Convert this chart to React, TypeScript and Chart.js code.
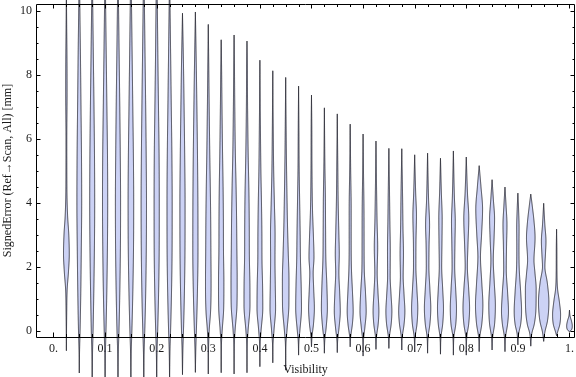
import React, { useEffect, useRef } from 'react';
import { Chart, registerables } from 'chart.js';

Chart.register(...registerables);

// ---------- data ----------
const violinPositions = [
  0.025, 0.05, 0.075, 0.1, 0.125, 0.15, 0.175, 0.2, 0.225, 0.25,
  0.275, 0.3, 0.325, 0.35, 0.375, 0.4, 0.425, 0.45, 0.475, 0.5,
  0.525, 0.55, 0.575, 0.6, 0.625, 0.65, 0.675, 0.7, 0.725, 0.75,
  0.775, 0.8, 0.825, 0.85, 0.875, 0.9, 0.925, 0.95, 0.975, 1.0,
];

// each violin: knots [signedError, relative density]
const violinProfiles: number[][][] = [
  [[-0.63, 0], [0.5, 0.3], [1.3, 0.8], [1.8, 2], [2.4, 2.9], [3.0, 2.4], [3.6, 1.2], [4.5, 0.5], [6, 0.4], [7.5, 0.7], [8.5, 0.6], [9.5, 0.3], [10.8, 0]],
  [[-1.33, 0], [-0.6, 0.3], [0, 0.8], [1, 1.4], [2.5, 2.0], [4, 2.4], [5.5, 2.2], [7, 1.7], [8.5, 1.2], [10, 0.6], [11.5, 0]],
  [[-1.6, 0], [-0.6, 0.4], [0, 0.9], [1, 1.5], [2.5, 2.2], [4, 2.5], [5.5, 2.3], [7, 1.8], [8.5, 1.2], [10, 0.6], [11.5, 0]],
  [[-1.6, 0], [-0.6, 0.4], [0, 0.9], [1, 1.6], [2.5, 2.3], [4, 2.6], [5.5, 2.4], [7, 1.8], [8.5, 1.2], [10, 0.6], [11.5, 0]],
  [[-1.6, 0], [-0.6, 0.4], [0, 1.0], [1, 1.7], [2.5, 2.4], [4, 2.6], [5.5, 2.3], [7, 1.8], [8.5, 1.2], [10, 0.6], [11.5, 0]],
  [[-1.6, 0], [-0.6, 0.4], [0, 1.0], [1, 1.8], [2.5, 2.6], [4, 2.8], [5.5, 2.5], [7, 1.9], [8.5, 1.3], [10, 0.7], [11.5, 0]],
  [[-1.6, 0], [-0.6, 0.4], [0, 1.0], [1, 1.8], [2.5, 2.5], [4, 2.7], [5.5, 2.4], [7, 1.9], [8.5, 1.3], [10, 0.7], [11.5, 0]],
  [[-1.6, 0], [-0.6, 0.4], [0, 1.0], [1, 1.8], [2.5, 2.5], [4, 2.6], [5.5, 2.4], [7, 1.8], [8.5, 1.2], [10, 0.7], [11.5, 0]],
  [[-1.6, 0], [-0.6, 0.4], [0, 1.0], [1, 1.8], [2.5, 2.5], [4, 2.6], [5.5, 2.3], [7, 1.7], [8.5, 1.1], [10, 0.5], [11.2, 0]],
  [[-1.38, 0], [-0.6, 0.4], [0, 1.0], [1, 1.8], [2.5, 2.5], [4, 2.6], [5.5, 2.2], [7, 1.6], [8.5, 0.9], [9.93, 0]],
  [[-1.31, 0], [-0.6, 0.4], [0, 1.0], [1, 1.9], [2.5, 2.6], [4, 2.5], [5.5, 2.1], [7, 1.5], [8.5, 0.8], [9.97, 0]],
  [[-1.36, 0], [-0.5, 0.3], [0, 0.9], [0.6, 2.3], [1.5, 2.8], [2.5, 2.6], [3.5, 2.4], [4.5, 2.0], [5.5, 1.5], [7, 0.9], [8.5, 0.4], [9.58, 0]],
  [[-1.32, 0], [-0.4, 0.3], [0, 1.0], [0.7, 2.5], [1.5, 2.7], [2.5, 2.3], [3.5, 2.2], [4.5, 1.9], [5.5, 1.4], [7, 0.8], [8.5, 0.3], [9.1, 0]],
  [[-1.36, 0], [-0.4, 0.3], [0, 1.0], [0.8, 2.9], [1.6, 3.1], [2.5, 2.8], [3.5, 2.5], [4.5, 2.0], [5.5, 1.3], [7, 0.7], [8.5, 0.3], [9.25, 0]],
  [[-1.32, 0], [-0.4, 0.3], [0, 1.1], [0.8, 3.0], [1.5, 2.9], [2.3, 2.4], [3.2, 2.3], [4.2, 2.0], [5.5, 1.2], [7, 0.6], [8.5, 0.3], [9.06, 0]],
  [[-1.13, 0], [-0.4, 0.3], [0, 1.2], [0.7, 2.9], [1.4, 2.7], [2.2, 2.1], [3.0, 2.0], [4, 1.6], [5, 1.0], [6.5, 0.5], [8.46, 0]],
  [[-1.01, 0], [-0.4, 0.3], [0, 1.2], [0.7, 2.8], [1.4, 2.5], [2.2, 2.2], [3.0, 2.3], [4, 1.6], [5, 0.9], [6.5, 0.4], [8.13, 0]],
  [[-1.24, 0], [-0.4, 0.3], [0, 1.3], [0.8, 3.2], [1.6, 3.3], [2.4, 2.6], [3.2, 1.9], [4.2, 1.3], [5.5, 0.7], [6.5, 0.4], [7.92, 0]],
  [[-0.77, 0], [-0.3, 0.4], [0, 1.3], [0.7, 2.9], [1.4, 2.6], [2.2, 1.9], [3.0, 1.6], [4.0, 1.1], [5, 0.6], [6.5, 0.3], [7.65, 0]],
  [[-0.51, 0], [-0.2, 0.5], [0.2, 2.0], [0.7, 2.9], [1.3, 2.2], [1.8, 1.7], [2.3, 2.5], [2.9, 2.0], [3.8, 1.0], [5, 0.5], [6.5, 0.3], [7.37, 0]],
  [[-0.71, 0], [-0.3, 0.4], [0.1, 1.8], [0.7, 3.0], [1.4, 2.5], [2.2, 1.5], [3.2, 1.2], [4.2, 1.0], [5.2, 0.5], [6.97, 0]],
  [[-0.69, 0], [-0.3, 0.4], [0.1, 1.8], [0.6, 3.0], [1.2, 2.4], [1.8, 1.6], [2.4, 2.0], [3.0, 1.6], [4, 0.9], [5.2, 0.5], [6.78, 0]],
  [[-0.51, 0], [-0.2, 0.5], [0.2, 2.2], [0.6, 3.0], [1.2, 2.3], [1.9, 1.3], [2.8, 1.0], [3.8, 1.0], [5, 0.5], [6.46, 0]],
  [[-0.8, 0], [-0.3, 0.4], [0.1, 1.8], [0.6, 3.1], [1.2, 2.4], [1.9, 1.2], [2.8, 1.0], [3.8, 0.9], [5, 0.4], [6.15, 0]],
  [[-0.59, 0], [-0.2, 0.5], [0.2, 2.2], [0.6, 2.9], [1.2, 2.0], [1.8, 1.2], [2.6, 1.7], [3.4, 1.1], [4.4, 0.6], [5.93, 0]],
  [[-0.56, 0], [-0.2, 0.5], [0.2, 2.3], [0.6, 3.0], [1.1, 2.2], [1.7, 1.3], [2.5, 1.4], [3.4, 1.0], [4.4, 0.6], [5.7, 0]],
  [[-0.61, 0], [-0.2, 0.5], [0.2, 2.3], [0.6, 3.1], [1.1, 2.3], [1.7, 1.4], [2.4, 1.7], [3.2, 1.2], [4.2, 0.8], [5.69, 0]],
  [[-0.65, 0], [-0.2, 0.5], [0.2, 2.3], [0.7, 3.1], [1.3, 2.2], [2.0, 1.2], [2.8, 1.3], [3.6, 1.8], [4.3, 1.0], [5.5, 0]],
  [[-0.71, 0], [-0.2, 0.5], [0.2, 2.3], [0.7, 3.2], [1.3, 2.3], [2.0, 1.3], [2.7, 1.5], [3.3, 2.0], [4.1, 1.0], [5.55, 0]],
  [[-0.74, 0], [-0.2, 0.5], [0.2, 2.2], [0.7, 3.0], [1.3, 2.2], [2.0, 1.2], [2.8, 1.5], [3.5, 1.7], [4.3, 0.9], [5.39, 0]],
  [[-0.77, 0], [-0.2, 0.5], [0.2, 2.4], [0.7, 3.1], [1.3, 2.3], [2.0, 1.3], [2.8, 1.6], [3.4, 1.9], [4.2, 1.0], [5.62, 0]],
  [[-0.77, 0], [-0.2, 0.5], [0.2, 2.4], [0.7, 3.3], [1.3, 2.4], [2.0, 1.1], [2.7, 1.7], [3.5, 2.5], [4.3, 1.2], [5.43, 0]],
  [[-0.66, 0], [-0.2, 0.6], [0.2, 2.6], [0.8, 3.7], [1.5, 2.6], [2.3, 1.3], [3.0, 2.4], [3.8, 3.4], [4.5, 1.8], [5.16, 0]],
  [[-0.61, 0], [-0.2, 0.6], [0.2, 2.5], [0.8, 3.3], [1.5, 2.2], [2.2, 1.2], [2.9, 2.0], [3.5, 2.5], [4.1, 1.3], [4.72, 0]],
  [[-0.66, 0], [-0.2, 0.6], [0.2, 2.6], [0.6, 3.5], [1.2, 2.6], [1.9, 1.3], [2.7, 1.6], [3.3, 2.0], [3.9, 1.1], [4.49, 0]],
  [[-0.45, 0], [-0.1, 0.8], [0.2, 2.8], [0.6, 3.7], [1.2, 2.8], [1.9, 1.4], [2.6, 1.1], [3.2, 1.2], [3.8, 0.7], [4.3, 0]],
  [[-0.49, 0], [-0.1, 1.0], [0.2, 3.5], [0.7, 5.2], [1.3, 5.4], [1.8, 4.2], [2.2, 3.2], [2.9, 4.3], [3.4, 3.3], [3.9, 1.5], [4.27, 0]],
  [[-0.34, 0], [-0.05, 1.2], [0.3, 3.8], [0.9, 5.2], [1.5, 3.6], [2.0, 1.2], [2.4, 1.8], [2.8, 2.3], [3.3, 1.2], [3.98, 0]],
  [[-0.16, 0], [-0.05, 1.0], [0.2, 3.3], [0.5, 4.0], [0.9, 2.8], [1.3, 1.0], [1.8, 0.4], [2.5, 0.3], [3.17, 0]],
  [[-0.03, 0], [0.0, 1.5], [0.15, 2.8], [0.3, 2.0], [0.45, 0.6], [0.64, 0]],
];

const xTickValues = [0, 0.1, 0.2, 0.3, 0.4, 0.5, 0.6, 0.7, 0.8, 0.9, 1.0];
const xTickLabels = ['0.', '0.1', '0.2', '0.3', '0.4', '0.5', '0.6', '0.7', '0.8', '0.9', '1.'];
const yTickValues = [0, 2, 4, 6, 8, 10];
const yTickLabels = ['0', '2', '4', '6', '8', '10'];
const xMinorStep = 0.025;
const yMinorStep = 0.5;

const xTitle = 'Visibility';
const yTitle = 'SignedError (Ref\u2192Scan, All) [mm]';

// ---------- styles ----------
const X_MIN = -0.0339;
const X_MAX = 1.0107;
const Y_MIN = -0.203;
const Y_MAX = 10.22;
const DENSITY_PX = 1; // half-width in px per density unit
const FILL = 'rgb(204,210,245)';
const EDGE = 'rgba(25,25,35,0.8)';
const FONT_FAMILY = '"Liberation Serif", "DejaVu Serif", serif';
const TEXT = '#1a1a1a';

function sampleProfile(knots: number[][], step: number): number[][] {
  const n = knots.length;
  const xs = knots.map((k) => k[0]);
  const ys = knots.map((k) => k[1]);
  const d: number[] = [];
  for (let i = 0; i < n - 1; i++) d.push((ys[i + 1] - ys[i]) / (xs[i + 1] - xs[i]));
  const m: number[] = new Array(n).fill(0);
  m[0] = d[0];
  m[n - 1] = d[n - 2];
  for (let i = 1; i < n - 1; i++) {
    m[i] = d[i - 1] * d[i] <= 0 ? 0 : (d[i - 1] + d[i]) / 2;
  }
  for (let i = 0; i < n - 1; i++) {
    if (d[i] === 0) {
      m[i] = 0;
      m[i + 1] = 0;
    } else {
      const a = m[i] / d[i];
      const b = m[i + 1] / d[i];
      const s = a * a + b * b;
      if (s > 9) {
        const t = 3 / Math.sqrt(s);
        m[i] = t * a * d[i];
        m[i + 1] = t * b * d[i];
      }
    }
  }
  const out: number[][] = [];
  for (let i = 0; i < n - 1; i++) {
    const h = xs[i + 1] - xs[i];
    const steps = Math.max(2, Math.ceil(h / step));
    for (let j = 0; j < steps; j++) {
      const t = j / steps;
      const t2 = t * t;
      const t3 = t2 * t;
      const h00 = 2 * t3 - 3 * t2 + 1;
      const h10 = t3 - 2 * t2 + t;
      const h01 = -2 * t3 + 3 * t2;
      const h11 = t3 - t2;
      const w = h00 * ys[i] + h10 * h * m[i] + h01 * ys[i + 1] + h11 * h * m[i + 1];
      out.push([xs[i] + t * h, Math.max(0, w)]);
    }
  }
  out.push([xs[n - 1], Math.max(0, ys[n - 1])]);
  return out;
}

const violinPlugin = {
  id: 'violins',
  afterDraw(chart: any) {
    const { ctx, chartArea } = chart;
    const xs = chart.scales.x;
    const ys = chart.scales.y;
    ctx.save();
    // violins
    violinPositions.forEach((pos, i) => {
      const cx = xs.getPixelForValue(pos);
      const samples = sampleProfile(violinProfiles[i], 0.02);
      ctx.beginPath();
      samples.forEach(([v, w], j) => {
        const px = cx + w * DENSITY_PX;
        const py = ys.getPixelForValue(v);
        if (j === 0) ctx.moveTo(px, py);
        else ctx.lineTo(px, py);
      });
      for (let j = samples.length - 1; j >= 0; j--) {
        ctx.lineTo(cx - samples[j][1] * DENSITY_PX, ys.getPixelForValue(samples[j][0]));
      }
      ctx.closePath();
      ctx.fillStyle = FILL;
      ctx.fill();
      ctx.strokeStyle = EDGE;
      ctx.lineWidth = 1;
      ctx.stroke();
    });

    // frame
    const { left, right, top, bottom } = chartArea;
    ctx.strokeStyle = '#000';
    ctx.lineWidth = 1;
    ctx.beginPath();
    ctx.rect(left + 0.5, top + 0.5, right - left - 1, bottom - top);
    ctx.stroke();

    // ticks
    ctx.beginPath();
    const isMajor = (v: number, arr: number[]) => arr.some((a) => Math.abs(a - v) < 1e-6);
    for (let v = 0; v <= X_MAX + 1e-9; v += xMinorStep) {
      const vv = Math.round(v * 1000) / 1000;
      if (vv < X_MIN) continue;
      const px = Math.round(xs.getPixelForValue(vv)) + 0.5;
      const len = isMajor(vv, xTickValues) ? 4.5 : 3;
      ctx.moveTo(px, bottom);
      ctx.lineTo(px, bottom - len);
      ctx.moveTo(px, top);
      ctx.lineTo(px, top + len);
    }
    for (let v = 0; v <= Y_MAX + 1e-9; v += yMinorStep) {
      const vv = Math.round(v * 1000) / 1000;
      const py = Math.round(ys.getPixelForValue(vv)) + 0.5;
      const len = isMajor(vv, yTickValues) ? 4.5 : 2.5;
      ctx.moveTo(left, py);
      ctx.lineTo(left + len, py);
      ctx.moveTo(right, py);
      ctx.lineTo(right - len, py);
    }
    ctx.stroke();
    ctx.restore();
  },
};

export default function App() {
  const ref = useRef<HTMLCanvasElement>(null);
  useEffect(() => {
    document.body.style.margin = '0';
    const canvas = ref.current!;
    const font = { family: FONT_FAMILY, size: 12 };
    const chart = new Chart(canvas, {
      type: 'scatter',
      data: { datasets: [{ data: [], pointRadius: 0 }] },
      options: {
        animation: false,
        responsive: false,
        devicePixelRatio: 1,
        layout: { padding: { left: 0, top: 4, right: 1, bottom: 0 } },
        plugins: { legend: { display: false }, tooltip: { enabled: false } },
        scales: {
          x: {
            type: 'linear',
            min: X_MIN,
            max: X_MAX,
            afterBuildTicks: (s: any) => {
              s.ticks = xTickValues.map((v) => ({ value: v }));
            },
            afterFit: (s: any) => {
              s.height = 40;
              s.paddingLeft = 0;
              s.paddingRight = 0;
            },
            grid: { display: false, drawTicks: false, tickLength: 0 },
            border: { display: false },
            ticks: {
              padding: 5,
              font,
              color: TEXT,
              maxRotation: 0,
              autoSkip: false,
              callback: (_v: any, i: number) => xTickLabels[i],
            },
            title: { display: true, text: xTitle, font, color: TEXT, padding: { top: 0, bottom: 0 } },
          },
          y: {
            type: 'linear',
            min: Y_MIN,
            max: Y_MAX,
            afterBuildTicks: (s: any) => {
              s.ticks = yTickValues.map((v) => ({ value: v }));
            },
            afterFit: (s: any) => {
              s.width = 36;
              s.paddingTop = 0;
              s.paddingBottom = 0;
            },
            grid: { display: false, drawTicks: false, tickLength: 0 },
            border: { display: false },
            ticks: {
              padding: 4,
              font,
              color: TEXT,
              autoSkip: false,
              callback: (_v: any, i: number) => yTickLabels[i],
            },
            title: { display: true, text: yTitle, font, color: TEXT, padding: { top: 1, bottom: 0 } },
          },
        },
      } as any,
      plugins: [violinPlugin],
    });
    return () => chart.destroy();
  }, []);
  return (
    <div style={{ position: 'absolute', left: 0, top: 0, width: 576, height: 377 }}>
      <canvas ref={ref} width={576} height={377} style={{ display: 'block' }} />
    </div>
  );
}
